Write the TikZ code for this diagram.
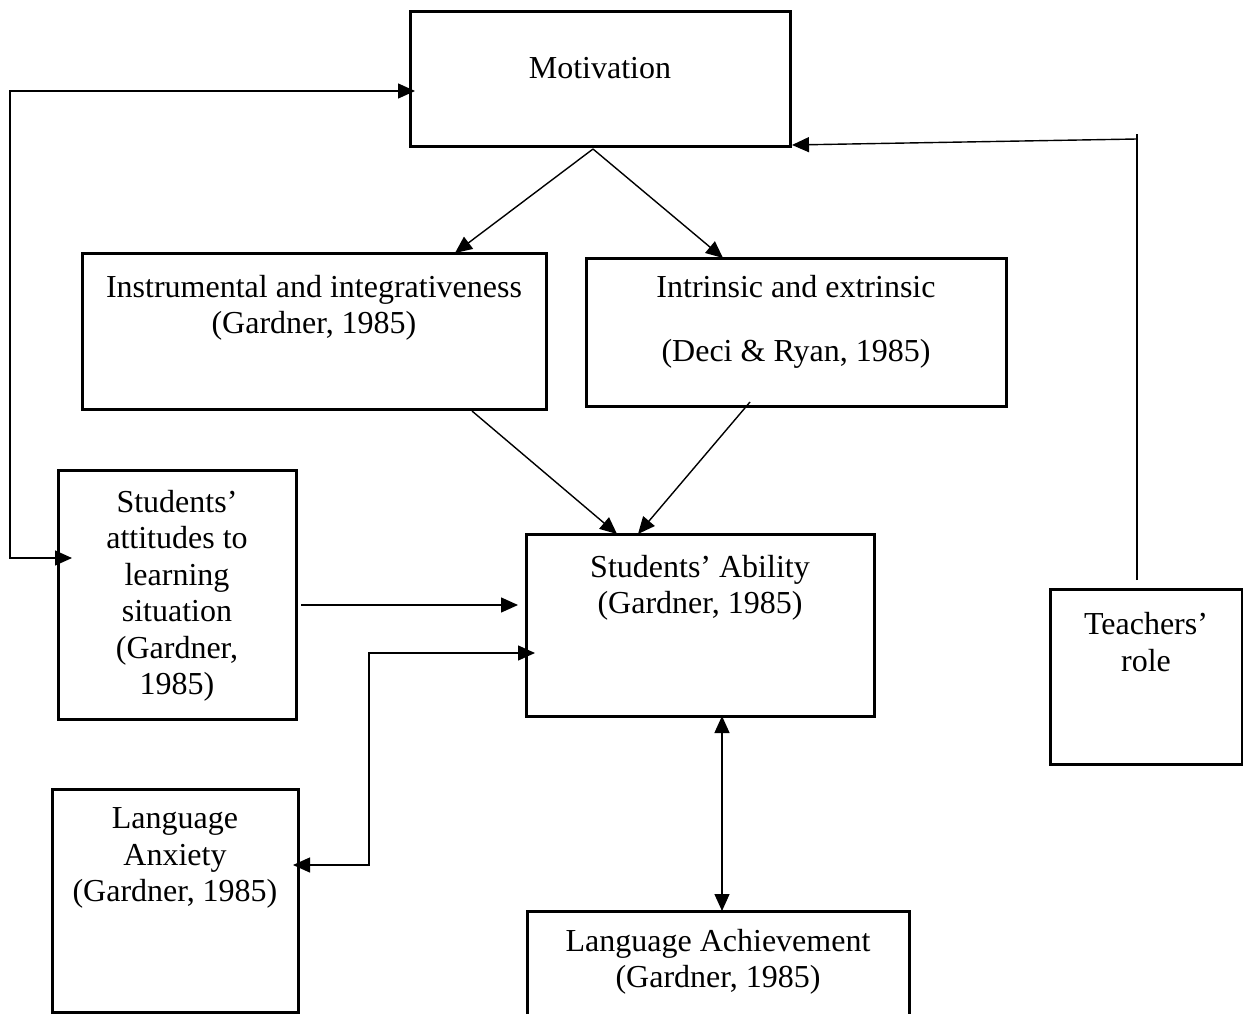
\documentclass[tikz,border=0pt]{standalone}
\usepackage{fontspec}
\setmainfont{Liberation Serif}
\usetikzlibrary{arrows.meta,calc}
\begin{document}
\begin{tikzpicture}[x=1pt,y=-1pt,
  box/.style={draw, line width=3pt, inner sep=0pt, outer sep=0pt},
  lbl/.style={align=center, font=\fontsize{32}{36.5}\selectfont, inner sep=0pt},
  tip/.tip={Triangle[length=17pt,width=15pt]},
  conn/.style={line width=1.4pt, -tip},
  conn2/.style={line width=1.4pt, tip-tip},
  plain/.style={line width=1.4pt}]
\useasboundingbox (0,0) rectangle (1243,1014);
% boxes
\node[box, minimum width=380pt, minimum height=135pt] (mot) at (600,79.5) {};
\node[box, minimum width=464pt, minimum height=156pt] (inst) at (314,331) {};
\node[box, minimum width=420pt, minimum height=148pt] (intr) at (796,332) {};
\node[box, minimum width=238pt, minimum height=249pt] (att) at (177,594.5) {};
\node[box, minimum width=348pt, minimum height=182pt] (abil) at (700,625) {};
\node[box, minimum width=192pt, minimum height=175pt] (teach) at (1146,676.5) {};
\node[box, minimum width=246pt, minimum height=223pt] (anx) at (175,900.5) {};
\node[box, minimum width=382pt, minimum height=115pt] (ach) at (718,968.5) {};
% texts
\node[lbl] (tmot) at (600,68) {Motivation};
\node[lbl] (tinst) at (314,308) {Instrumental and integrativeness\\(Gardner, 1985)};
\node[lbl] (tintr) at (796,322) {Intrinsic and extrinsic\\[27pt](Deci \& Ryan, 1985)};
\node[lbl] (tatt) at (177,596) {Students’\\attitudes to\\learning\\situation\\(Gardner,\\1985)};
\node[lbl] (tabil) at (700,588) {Students’ Ability\\(Gardner, 1985)};
\node[lbl] (tteach) at (1146,642) {Teachers’\\role};
\node[lbl] (tanx) at (175,858) {Language\\Anxiety\\(Gardner, 1985)};
\node[lbl] (tach) at (718,962) {Language Achievement\\(Gardner, 1985)};
% connectors
\coordinate (ms) at ($(mot.south)+(-7,2)$);
\draw[conn] (ms) -- ($(inst.north)+(141,0)$);
\draw[conn] (ms) -- ($(intr.north)+(-73,0)$);
\draw[conn] ($(inst.south)+(158,2)$) -- ($(abil.north)+(-83,0)$);
\draw[conn] ($(intr.south)+(-46,-4)$) -- ($(abil.north)+(-62,0)$);
\draw[conn] ($(att.east)+(5,10.5)$) -- ($(abil.west)+(-8,-20)$);
% left loop
\coordinate (lb) at (10,558);
\coordinate (lt) at (10,91);
\draw[conn2] ($(att.west)+(14,-36.5)$) -- (lb) -- (lt) -- ($(mot.west)+(5,11.5)$);
% teachers' role
\coordinate (tt) at ($(teach.north)+(-9,-455)$);
\draw[plain] ($(teach.north)+(-9,-9)$) -- (tt);
\draw[conn] ($(tt)+(0,5)$) -- ($(mot.east)+(2,65.5)$);
% anxiety link
\coordinate (ac) at (369,865);
\draw[conn2] ($(anx.east)+(-5,-35.5)$) -- (ac) |- ($(abil.west)+(9,28)$);
% ability <-> achievement
\draw[conn2] ($(abil.south)+(22,0)$) -- ($(ach.north)+(4,0)$);
\end{tikzpicture}
\end{document}
